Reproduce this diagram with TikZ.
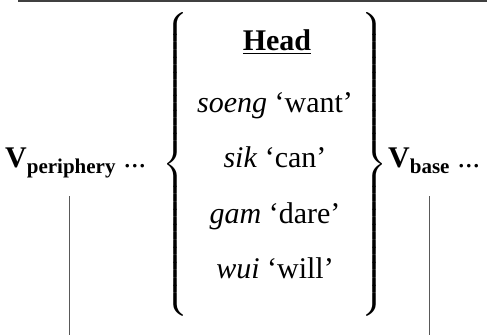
\documentclass[tikz,border=0pt]{standalone}
\usepackage{amsmath}
\usepackage{graphicx}
\usepackage{fontspec}
\setmainfont{Liberation Serif}
\newcommand{\bigbrace}[1]{\resizebox*{26pt}{304pt}{$\nulldelimiterspace=0pt\delimiterfactor=1000\delimitershortfall=0pt#1$}}
\begin{document}
\begin{tikzpicture}[x=1pt,y=-1pt,
  txt/.style={inner sep=0pt, anchor=base, font=\fontsize{30}{36}\selectfont},
  vlab/.style={inner sep=0pt, anchor=base west, font=\fontsize{30}{36}\selectfont},
  bracenode/.style={inner sep=0pt},
  toprule/.style={draw=black!75, line width=1.2pt},
  link/.style={draw=black!65, line width=0.8pt}]
\useasboundingbox (0,0) rectangle (487,335);
\coordinate (tl) at (18,1);
\coordinate (tr) at (487,1);
\draw[toprule] (tl) -- (tr);
\node[txt] (head) at (277,50) {\underline{\textbf{Head}}};
\node[txt] (r1) at (275,112) {\textit{soeng} `want'};
\node[txt] (r2) at (275,167) {\textit{sik} `can'};
\node[txt] (r3) at (275,223) {\textit{gam} `dare'};
\node[txt] (r4) at (275,278) {\textit{wui} `will'};
\node[bracenode] (lb) at (175,164) {\bigbrace{\left\{\vcenter{\hbox{\rule{0pt}{120pt}}}\right.}};
\node[bracenode] (rb) at (374,164) {\bigbrace{\left.\vcenter{\hbox{\rule{0pt}{120pt}}}\right\}}};
\node[vlab] (vper) at (5,167) {\textbf{V}$_{\textbf{periphery}}$ ...};
\node[vlab] (vbase) at (388,167) {\textbf{V}$_{\textbf{base}}$ ...};
\coordinate (ptop) at (69,196);
\coordinate (pbot) at (69,335);
\coordinate (btop) at (429,196);
\coordinate (bbot) at (429,335);
\draw[link] (ptop) -- (pbot);
\draw[link] (btop) -- (bbot);
\end{tikzpicture}
\end{document}
